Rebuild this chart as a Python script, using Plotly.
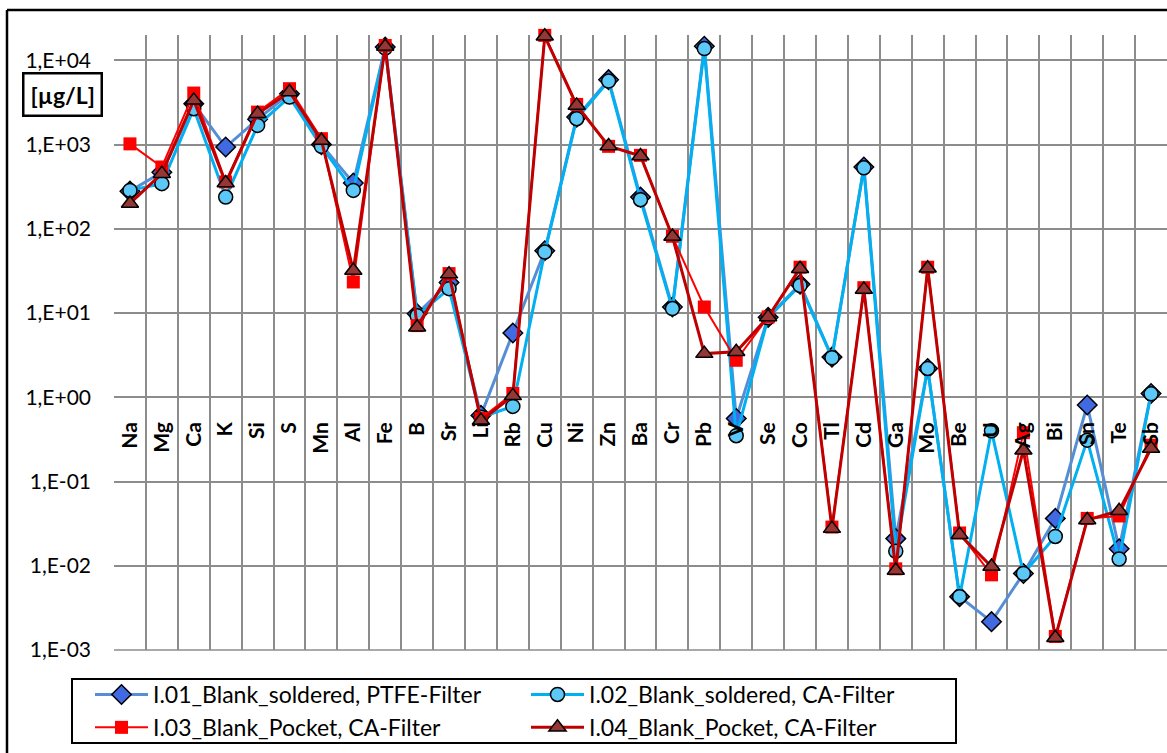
import plotly.graph_objects as go

elements = ["Na", "Mg", "Ca", "K", "Si", "S", "Mn", "Al", "Fe", "B", "Sr", "Li", "Rb", "Cu", "Ni",
            "Zn", "Ba", "Cr", "Pb", "V", "Se", "Co", "Tl", "Cd", "Ga", "Mo", "Be", "U", "Ag", "Bi",
            "Sn", "Te", "Sb"]

i01_soldered_ptfe = [280, 470, 3060, 935, 2000, 4020, 1000, 350, 14400, 9.8, 23, 0.61, 5.8, 55, 2120,
                     5900, 238, 11.8, 14700, 0.56, 8.9, 22, 3.0, 542, 0.021, 2.2, 0.0043, 0.00217, 0.0081, 0.0365,
                     0.81, 0.0159, 1.11]
i02_soldered_ca = [286, 344, 2670, 238, 1690, 3670, 953, 286, 14000, 9.3, 19.5, 0.58, 0.78, 53, 2030,
                   5680, 222, 11.3, 13800, 0.35, 8.8, 21.3, 2.95, 530, 0.0149, 2.2, 0.0043, 0.4, 0.0081, 0.0223,
                   0.31, 0.012, 1.1]
i03_pocket_ca = [1020, 542, 4090, 360, 2430, 4610, 1175, 23.4, 15000, 7.1, 29.4, 0.56, 1.11, 19800, 3000,
                 953, 745, 81.5, 11.8, 2.75, 9.0, 35, 0.0288, 20, 0.0092, 35, 0.0245, 0.0078, 0.38, 0.00145,
                 0.0365, 0.039, 0.27]
i04_pocket_ca = [200, 452, 3350, 350, 2330, 4210, 1120, 32, 14600, 6.8, 29, 0.53, 1.04, 19300, 2920,
                 962, 731, 81, 3.3, 3.47, 9.0, 33.6, 0.0276, 19.1, 0.0088, 34, 0.0234, 0.0098, 0.235, 0.0014,
                 0.035, 0.045, 0.247]

series_names = ["I.01_Blank_soldered, PTFE-Filter", "I.02_Blank_soldered, CA-Filter",
                "I.03_Blank_Pocket, CA-Filter", "I.04_Blank_Pocket, CA-Filter"]

ytick_vals = [1e-3, 1e-2, 1e-1, 1e0, 1e1, 1e2, 1e3, 1e4]
ytick_text = ["1,E-03", "1,E-02", "1,E-01", "1,E+00", "1,E+01", "1,E+02", "1,E+03", "1,E+04"]

FONT = "Lato"
W, H = 1167, 753
ML, MR, MT, MB = 114, 0, 35, 103
PW, PH = W - ML - MR, H - MT - MB
YMIN, YMAX = -3.0, 4.301


def px_to_paper_x(px):
    return (px - ML) / PW


def px_to_paper_y(py):
    return (H - MB - py) / PH


fig = go.Figure()

styles = [
    dict(line=dict(color="#558ED5", width=3),
         marker=dict(symbol="diamond", size=15, color="#4169E1", line=dict(color="black", width=1.5))),
    dict(line=dict(color="#00B0F0", width=3),
         marker=dict(symbol="circle", size=14, color="#5BC8F8", line=dict(color="black", width=1.5))),
    dict(line=dict(color="#FF0000", width=2),
         marker=dict(symbol="square", size=13, color="#FF0000", line=dict(color="#FF0000", width=0))),
    dict(line=dict(color="#C00000", width=3),
         marker=dict(symbol="triangle-up", size=15, color="#953735", line=dict(color="black", width=1.5))),
]

for name, vals, st in zip(series_names, [i01_soldered_ptfe, i02_soldered_ca, i03_pocket_ca, i04_pocket_ca], styles):
    fig.add_trace(go.Scatter(x=elements, y=vals, name=name, mode="lines+markers",
                             line=st["line"], marker=st["marker"], cliponaxis=False))

label_y_px = 417
fig.update_layout(
    width=W, height=H,
    margin=dict(l=ML, r=MR, t=MT, b=MB, autoexpand=False),
    paper_bgcolor="white", plot_bgcolor="white",
    font=dict(family=FONT, color="black"),
    showlegend=True,
    xaxis=dict(type="category", categoryorder="array", categoryarray=elements,
               range=[-0.5, len(elements) - 0.5],
               tickson="boundaries", showgrid=True, gridcolor="#8c8c8c", gridwidth=1.6,
               showline=False, zeroline=False, ticks="",
               anchor="free", position=px_to_paper_y(label_y_px),
               tickangle=-90, tickfont=dict(family=FONT, size=21, color="black", weight="bold")),
    yaxis=dict(type="log", range=[YMIN, YMAX], tickvals=ytick_vals, ticktext=ytick_text,
               showgrid=True, gridcolor="#8c8c8c", gridwidth=1.6, zeroline=False, showline=False,
               ticks="", ticklabelstandoff=22,
               tickfont=dict(family=FONT, size=21, color="black")),
    legend=dict(orientation="h", x=px_to_paper_x(90), y=px_to_paper_y(673),
                xanchor="left", yanchor="top", entrywidth=368, entrywidthmode="pixels",
                itemwidth=53, borderwidth=0, bgcolor="rgba(0,0,0,0)",
                font=dict(family=FONT, size=23, color="black"), tracegroupgap=0),
    shapes=[
        dict(type="line", xref="paper", yref="paper", x0=0, x1=1, y0=0, y1=0,
             line=dict(color="#8c8c8c", width=1.6)),
        dict(type="line", xref="paper", yref="paper", x0=px_to_paper_x(7), x1=px_to_paper_x(7),
             y0=px_to_paper_y(10), y1=px_to_paper_y(760), line=dict(color="black", width=2.5)),
        dict(type="line", xref="paper", yref="paper", x0=px_to_paper_x(7), x1=px_to_paper_x(1170),
             y0=px_to_paper_y(10), y1=px_to_paper_y(10), line=dict(color="black", width=2.5)),
        dict(type="rect", xref="paper", yref="paper", x0=px_to_paper_x(72), x1=px_to_paper_x(956),
             y0=px_to_paper_y(743), y1=px_to_paper_y(679), line=dict(color="black", width=2)),
    ],
    annotations=[
        dict(text="<b>[µg/L]</b>", xref="paper", yref="paper",
             x=px_to_paper_x(62.5), y=px_to_paper_y(95), xanchor="center", yanchor="middle",
             showarrow=False, font=dict(family=FONT, size=23, color="black"),
             bordercolor="black", borderwidth=2.5, borderpad=6, bgcolor="white"),
    ],
)

fig.write_html("out.html")
